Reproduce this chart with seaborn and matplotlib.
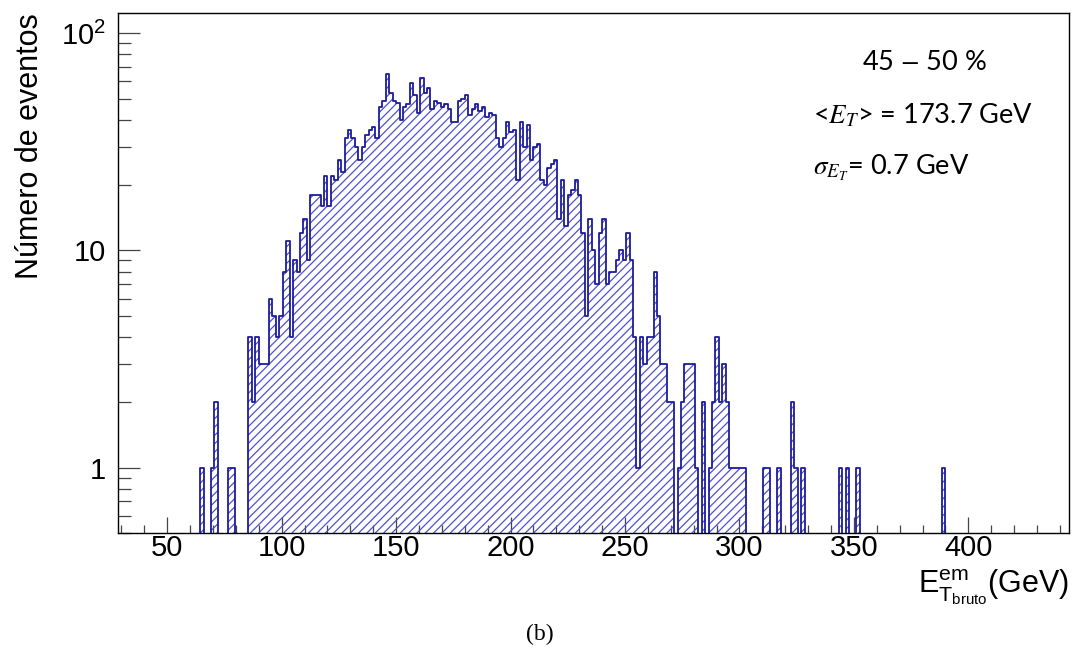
import numpy as np
import pandas as pd
import matplotlib
matplotlib.use("Agg")
import matplotlib.pyplot as plt
from matplotlib.ticker import (FixedLocator, FixedFormatter, MultipleLocator,
                               LogLocator, NullFormatter)
import seaborn as sns

# Histogram of raw transverse EM energy, 45-50 % centrality, 1.5 GeV bins
bin_width = 1.5
first_edge = 63.0

# counts per bin, starting at 63.0 GeV
counts_low = [0, 1, 0, 0, 1, 2, 0, 0, 0, 1, 1, 0, 0, 0, 0]                     # 63.0 - 85.5
counts_rise = [4, 2, 4, 3, 3, 3, 6, 5, 4, 5, 8, 11, 4, 9, 8, 12, 14, 9,
               18, 18, 18, 16, 22, 16, 22, 21, 26, 23, 33, 36, 33, 30, 26, 30, 34, 36]   # 85.5 - 139.5
counts_peak = [37, 33, 46, 49, 65, 53, 49, 48, 40, 46, 47, 59, 52, 43, 62, 53, 56, 45,
               49, 48, 46, 47, 45, 39, 39, 49, 50, 52, 42, 45, 47, 44, 46, 41, 43, 42]  # 139.5 - 193.5
counts_fall = [33, 30, 33, 39, 35, 36, 21, 39, 30, 38, 26, 30, 31, 21, 20, 24, 25, 26, 14, 21,
               13, 18, 19, 21, 18, 12, 5, 14, 10, 7, 12, 14, 7, 8, 8, 9, 10, 9, 12, 9,
               4, 1, 4, 3, 4, 4, 8, 5, 3, 3, 2, 2, 0, 1, 2, 3, 3, 3, 1, 0,
               2, 0, 1, 2, 4, 2, 3, 2, 1, 1, 1, 1, 1]                             # 193.5 - 303.0
counts_tail = [0, 0, 0, 0, 0, 1, 1, 0, 0, 1, 0, 0, 0, 2, 1, 0, 1,
               0, 0, 0, 0, 0, 0, 0, 0, 0, 0, 1, 0, 1, 0, 0, 1,
               0, 0, 0, 0, 0, 0, 0, 0, 0, 0, 0, 0, 0, 0, 0, 0, 0, 0, 0, 0, 0, 0, 0, 0,
               1, 0]                                                               # 303.0 - 391.5

centrality_text = "45 $-$ 50 %"
mean_text = "<$E_T$> = 173.7 GeV"
sigma_text = r"$\sigma_{E_T}$= 0.7 GeV"
x_title = r"$\mathregular{E^{em}_{T_{bruto}}}$(GeV)"
y_title = "Número de eventos"
y_ticks = [1, 10, 100]
y_ticklabels = ["1", "10", r"$\mathregular{10^2}$"]

line_blue = "#1c1c9c"
hatch_blue = "#5050cc"

sns.set_theme(style="white")
plt.rcParams["font.family"] = ["Liberation Sans", "DejaVu Sans"]
plt.rcParams["hatch.linewidth"] = 0.9
plt.rcParams["text.color"] = "black"
plt.rcParams["axes.labelcolor"] = "black"
plt.rcParams["xtick.color"] = "black"
plt.rcParams["ytick.color"] = "black"

counts = np.array(counts_low + counts_rise + counts_peak + counts_fall + counts_tail, float)
edges = (first_edge + bin_width * np.arange(len(counts) + 1)).tolist()
centers = [0.5 * (a + b) for a, b in zip(edges[:-1], edges[1:])]
df = pd.DataFrame({"et": centers, "n": counts})

fig = plt.figure(figsize=(10.73, 6.53), dpi=100)
ax = fig.add_axes([118 / 1073, 1 - 533 / 653, (1069 - 118) / 1073, (533 - 13) / 653])

# hatched fill
sns.histplot(data=df, x="et", weights="n", bins=edges, element="step", fill=True,
             color=hatch_blue, ax=ax)
# outline
sns.histplot(data=df, x="et", weights="n", bins=edges, element="step", fill=True,
             color=line_blue, ax=ax)

colls = ax.collections
colls[0].set_facecolor("none")
colls[0].set_edgecolor(hatch_blue)
colls[0].set_linewidth(0)
colls[0].set_hatch("////")
colls[1].set_facecolor("none")
colls[1].set_edgecolor(line_blue)
colls[1].set_linewidth(1.3)

ax.set_yscale("log")
ax.set_xlim(28.5, 444)
ax.set_ylim(0.5, 124)

for s in ax.spines.values():
    s.set_color("black")
    s.set_linewidth(1.0)
    s.set_visible(True)

ax.xaxis.set_major_locator(MultipleLocator(50))
ax.xaxis.set_minor_locator(MultipleLocator(10))
ax.yaxis.set_major_locator(FixedLocator(y_ticks))
ax.yaxis.set_major_formatter(FixedFormatter(y_ticklabels))
ax.yaxis.set_minor_locator(LogLocator(base=10, subs=np.arange(2, 10)))
ax.yaxis.set_minor_formatter(NullFormatter())

tick_col = "#444444"
ax.tick_params(axis="x", which="major", direction="in", length=11.5, width=0.9,
               color=tick_col, labelcolor="black", labelsize=21, pad=1, bottom=True, top=False)
ax.tick_params(axis="x", which="minor", direction="in", length=5.8, width=0.9,
               color=tick_col, bottom=True, top=False)
ax.tick_params(axis="y", which="major", direction="in", length=16, width=0.9,
               color=tick_col, labelcolor="black", labelsize=21, pad=9, left=True, right=False)
ax.tick_params(axis="y", which="minor", direction="in", length=9, width=0.9,
               color=tick_col, left=True, right=False)

ax.set_xlabel(x_title, fontsize=22, loc="right", color="black")
ax.xaxis.set_label_coords(1.0, -0.065)
ax.set_ylabel(y_title, fontsize=22, loc="top", color="black")
ax.yaxis.set_label_coords(-0.077, 1.0)

txt_kw = dict(fontsize=19.5, family=["Lato", "DejaVu Sans"], math_fontfamily="stix",
              va="center", color="black")
fig.text(924 / 1073, 1 - 62 / 653, centrality_text, ha="center", **txt_kw)
fig.text(813 / 1073, 1 - 115 / 653, mean_text, ha="left", **txt_kw)
fig.text(813 / 1073, 1 - 168 / 653, sigma_text, ha="left", **txt_kw)

fig.text(540 / 1073, 1 - 634 / 653, "(b)", ha="center", va="center", fontsize=17,
         color="black", family=["Liberation Serif", "DejaVu Serif"])

fig.savefig("out.png", dpi=100)
